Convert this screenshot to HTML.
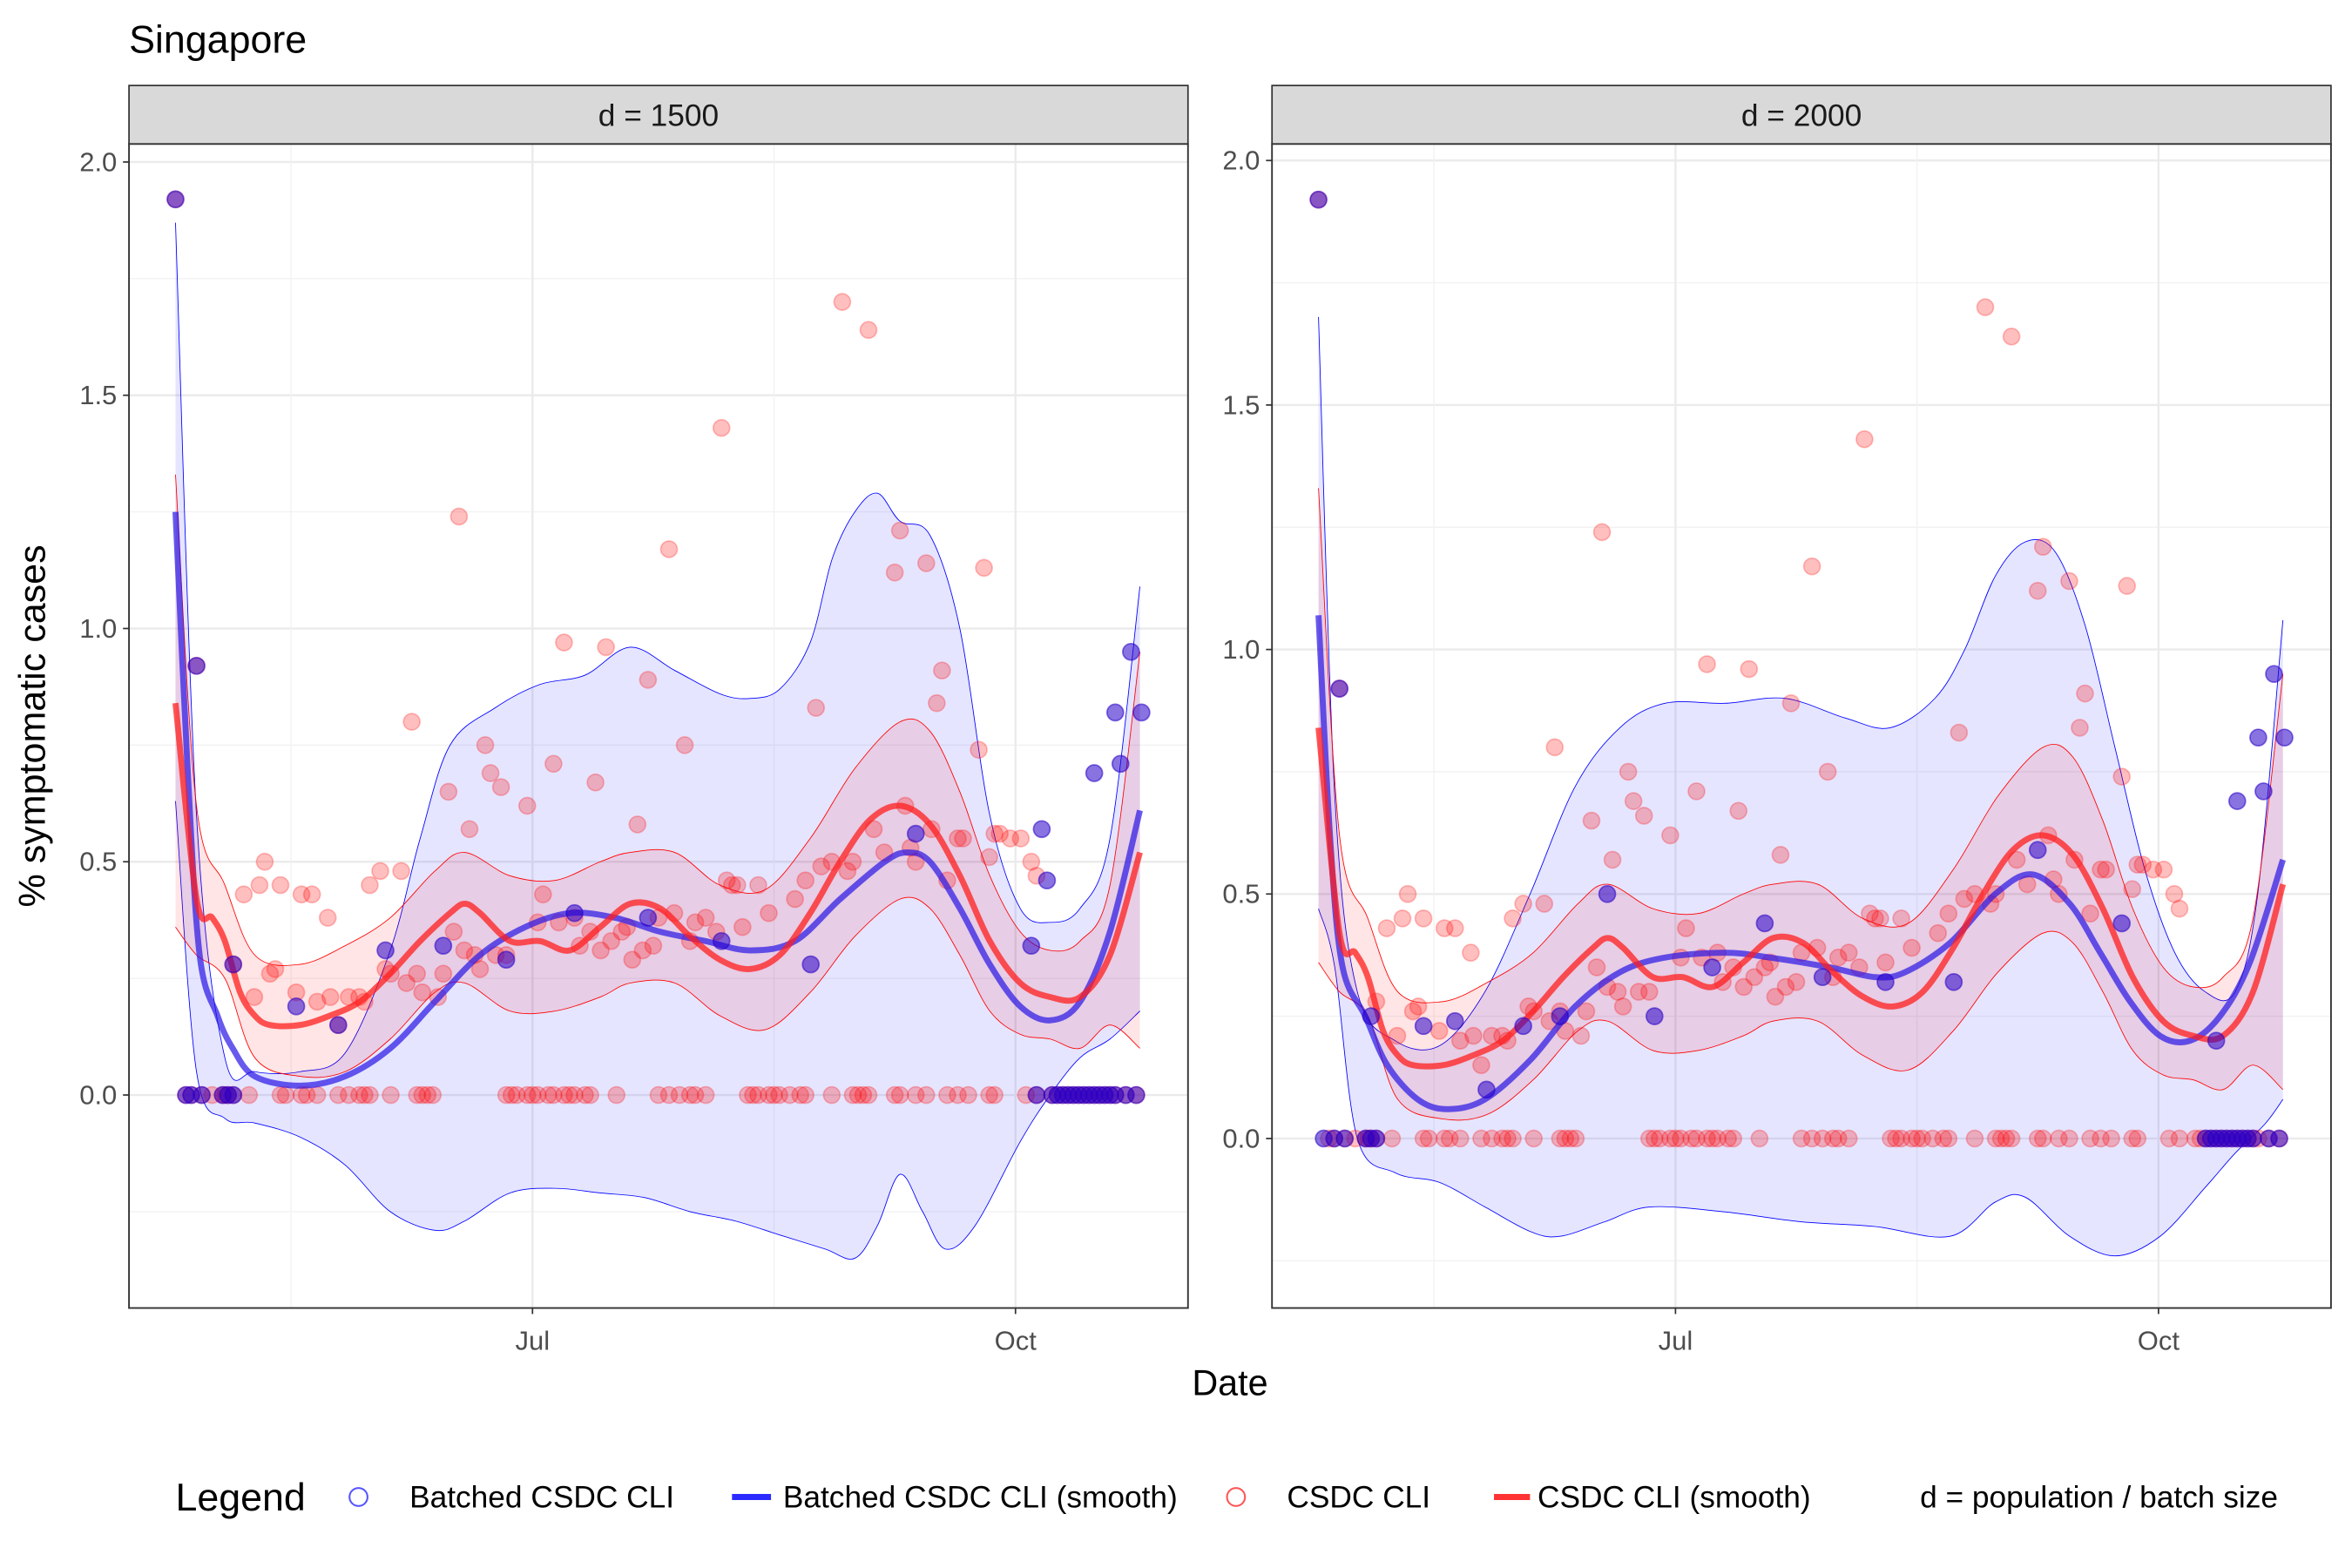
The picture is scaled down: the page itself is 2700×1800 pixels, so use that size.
<!DOCTYPE html>
<html><head><meta charset="utf-8"><style>
html,body{margin:0;padding:0;background:#fff;}
svg{display:block;font-family:"Liberation Sans",sans-serif;}
</style></head><body>
<svg id="chart" width="2700" height="1800" viewBox="0 0 1568 1045.33" preserveAspectRatio="none" xmlns="http://www.w3.org/2000/svg">
<rect x="0" y="0" width="1568" height="1046" fill="#fff"/>
<text x="86" y="35" font-size="26" fill="#000">Singapore</text>
<text transform="translate(30,484) rotate(-90)" text-anchor="middle" font-size="25" fill="#000">% symptomatic cases</text>
<text x="820" y="930" text-anchor="middle" font-size="24" fill="#000">Date</text>
<g id="panels"></g>
<g>
<text x="117" y="1007" font-size="26" fill="#000">Legend</text>
<circle cx="239" cy="998" r="6" fill="none" stroke="#5555ff" stroke-width="1.2"/>
<text x="273" y="1005" font-size="20.5">Batched CSDC CLI</text>
<line x1="488" y1="998" x2="514" y2="998" stroke="#2b2bff" stroke-width="4"/>
<text x="522" y="1005" font-size="20.5">Batched CSDC CLI (smooth)</text>
<circle cx="824" cy="998" r="6" fill="none" stroke="#ff5555" stroke-width="1.2"/>
<text x="858" y="1005" font-size="20.5">CSDC CLI</text>
<line x1="996" y1="998" x2="1020" y2="998" stroke="#ff3333" stroke-width="4"/>
<text x="1025" y="1005" font-size="20.5">CSDC CLI (smooth)</text>
<text x="1280" y="1005" font-size="20.5">d = population / batch size</text>
</g>
</svg>
<script>
// days relative to Jul 1
const redDays=[-68,-64,-57,-55,-53,-52,-51,-50,-49,-48,-45,-44,-42,-41,-39,-38.5,-37,-35,-33,-32,-31,-29,-28,-27,-25,-24,-23,-22,-21,-18,-17,-16,-15,-14,-13,-12,-11,-10,-9,-8,-7,-6,-5,-1,1,2,4,5,6,8,9,11,12,13,14,15,17,18,19,20,21,22,23,24,26,27,29,30,31,33,35,36,37,38,39,40,43,45,50,52,54,55,57,59,60,61,64,65,67,69,70,71,72,73,75,76,77,78,79,81,82,85,86,87,88,89,91,93,95,96];
const redVals=[1.92,0.92,0.28,0.43,0.21,0.45,0.50,0.26,0.27,0.45,0.22,0.43,0.43,0.20,0.38,0.21,0.15,0.21,0.21,0.20,0.45,0.48,0.27,0.26,0.48,0.24,0.80,0.26,0.22,0.21,0.26,0.65,0.35,1.24,0.31,0.57,0.30,0.27,0.75,0.69,0.30,0.66,0.30,0.62,0.37,0.43,0.71,0.37,0.97,0.38,0.32,0.35,0.67,0.31,0.96,0.33,0.35,0.36,0.29,0.58,0.31,0.89,0.32,0.38,1.17,0.39,0.75,0.33,0.37,0.38,0.35,1.43,0.46,0.45,0.45,0.36,0.45,0.39,0.42,0.46,0.83,0.49,0.50,1.70,0.48,0.50,1.64,0.57,0.52,1.12,1.21,0.62,0.53,0.50,1.14,0.57,0.84,0.91,0.46,0.55,0.55,0.74,1.13,0.51,0.56,0.56,0.55,0.55,0.50,0.47];
const redZeroDays=[-66,-65,-63,-61,-59,-58.5,-58,-57,-54,-48,-47,-44,-43,-41,-37,-35,-33,-32,-31,-27,-22,-21,-20,-19,-5,-4,-3,-1,0,1,3,4,6,7,8,10,11,16,24,26,28,30,31,33,41,42,43,45,46,47,49,51,52,57,61,62,63,64,69,70,73,75,79,81,83,87,88,94,96,99,100,101,102,103,104,105,106,107,108,109,110,111,113,115];

const b1Days=[-68,-64,-57,-45,-37,-28,-17,-5,8,22,36,53,73,95,97,98,107,111,112,114,116];
const b1Vals=[1.92,0.92,0.28,0.19,0.15,0.31,0.32,0.29,0.39,0.38,0.33,0.28,0.56,0.32,0.57,0.46,0.69,0.82,0.71,0.95,0.82];
const b1ZeroDays=[-66,-65,-63,-59,-58,-57,96,99,100,101,102,103,104,105,106,107,108,109,110,111,113,115];
const b2Days=[-68,-64,-58,-48,-42,-36,-29,-22,-13,-4,7,17,28,40,53,69,85,103,107,111,112,114,116];
const b2Vals=[1.92,0.92,0.25,0.23,0.24,0.10,0.23,0.25,0.50,0.25,0.35,0.44,0.33,0.32,0.32,0.59,0.44,0.20,0.69,0.82,0.71,0.95,0.82];
const b2ZeroDays=[-67,-65,-63,-59,-58,-57,101,102,103,104,105,106,107,108,109,110,113,115];

// smooths
const rsDays=[-68,-64,-61,-58.6,-55.7,-52.9,-50,-44.3,-38.6,-32.9,-27.1,-21.4,-15.7,-12.9,-10,-4.3,1.4,7.1,12.9,18.6,24.3,30,35.7,41.4,47.1,52.9,58.6,64.3,70,75.7,81.4,87.1,92.9,98.6,104.3,110,115.7];
const rsVals=[0.84,0.42,0.38,0.33,0.22,0.17,0.15,0.15,0.17,0.20,0.26,0.33,0.39,0.41,0.39,0.33,0.33,0.31,0.36,0.41,0.40,0.34,0.29,0.27,0.30,0.39,0.50,0.59,0.62,0.58,0.47,0.33,0.24,0.21,0.21,0.30,0.52];
const rbDays=[-68,-64,-58.6,-52.9,-44.3,-35.7,-27.1,-18.6,-12.9,-4.3,4.3,12.9,18.6,27.1,35.7,44.3,52.9,61.4,70,75.7,81.4,87.1,92.9,98.6,104.3,110,115.7];
const rbUpper=[1.33,0.62,0.45,0.30,0.28,0.32,0.38,0.48,0.52,0.47,0.46,0.50,0.52,0.52,0.45,0.44,0.55,0.70,0.80,0.78,0.65,0.47,0.35,0.31,0.33,0.45,0.95];
const rbLower=[0.36,0.30,0.25,0.08,0.04,0.05,0.12,0.22,0.24,0.18,0.18,0.21,0.24,0.24,0.17,0.14,0.22,0.34,0.42,0.40,0.30,0.18,0.13,0.12,0.10,0.15,0.10];

const bs1Days=[-68,-65.7,-63.4,-60,-57.1,-52.9,-44.3,-35.7,-27.1,-18.6,-10,-1.4,7.1,15.7,24.3,32.9,41.4,50,58.6,67.1,71.4,75.7,81.4,87.1,92.9,98.6,104.3,110,115.7];
const bs1Vals=[1.25,0.70,0.30,0.17,0.10,0.04,0.02,0.04,0.10,0.20,0.30,0.36,0.39,0.38,0.35,0.33,0.31,0.33,0.42,0.50,0.52,0.50,0.40,0.28,0.19,0.16,0.20,0.35,0.61];
const bu1Days=[-68,-64,-58.6,-52.9,-44.3,-35.7,-27.1,-21.4,-15.7,-7.1,1.4,10,18.6,27.1,35.7,41.4,47.1,52.9,57.1,61.4,65.7,70,75.7,81.4,87.1,92.9,98.6,104.3,110,115.7];
const bu1Vals=[1.87,0.60,0.08,0.05,0.05,0.09,0.31,0.55,0.75,0.83,0.88,0.90,0.96,0.91,0.86,0.85,0.87,0.97,1.15,1.25,1.29,1.23,1.20,1.00,0.60,0.40,0.37,0.40,0.55,1.09];
const bl1Days=[-68,-64,-58.6,-52.9,-44.3,-35.7,-27.1,-18.6,-12.9,-4.3,4.3,12.9,21.4,30,38.6,47.1,55.7,61.4,65.7,70,74.3,78.6,84.3,92.9,98.6,104.3,110,115.7];
const bl1Vals=[0.63,0.05,-0.05,-0.06,-0.09,-0.15,-0.25,-0.29,-0.27,-0.21,-0.20,-0.21,-0.22,-0.25,-0.27,-0.30,-0.33,-0.35,-0.28,-0.17,-0.25,-0.33,-0.28,-0.10,0.00,0.08,0.12,0.18];

const bs2Days=[-68,-65.7,-63.4,-59.1,-54.9,-49.1,-43.4,-36.3,-27.7,-19.1,-10.6,-2,9.4,18,29.4,38,43.7,52.3,60.9,68,75.1,80.9,86.6,92.3,98,103.7,109.4,115.7];
const bs2Vals=[1.07,0.60,0.35,0.25,0.15,0.08,0.06,0.08,0.16,0.27,0.34,0.37,0.38,0.37,0.35,0.33,0.34,0.40,0.50,0.54,0.48,0.38,0.28,0.21,0.20,0.25,0.36,0.57];
const bu2Days=[-68,-64.9,-60.6,-53.4,-44.9,-36.3,-27.7,-19.1,-10.6,-2,9.4,20.9,32.3,40.9,49.4,55.1,60.9,66.6,72.3,78,83.7,89.4,95.1,100.9,106.6,110.9,115.7];
const bu2Vals=[1.68,0.70,0.30,0.20,0.19,0.30,0.50,0.72,0.84,0.89,0.89,0.90,0.86,0.84,0.90,1.00,1.15,1.22,1.20,1.05,0.80,0.55,0.38,0.30,0.30,0.50,1.06];
const bl2Days=[-68,-64.9,-60.6,-53.4,-44.9,-36.3,-27.7,-22,-13.4,-4.9,9.4,23.7,38,52.3,60.9,66.6,75.1,83.7,92.3,100.9,106.6,112.3,115.7];
const bl2Vals=[0.47,0.35,0.00,-0.07,-0.09,-0.14,-0.19,-0.20,-0.17,-0.14,-0.15,-0.17,-0.18,-0.20,-0.13,-0.12,-0.20,-0.24,-0.20,-0.10,-0.03,0.03,0.08];

const yTicks=[0,0.5,1,1.5,2];
const yTickLabels=["0.0","0.5","1.0","1.5","2.0"];
const xTicks=[0,92];
const xTickLabels=["Jul","Oct"];

const NS="http://www.w3.org/2000/svg";
const root=document.getElementById('panels');
function mk(tag,attrs,parent){const e=document.createElementNS(NS,tag);for(const k in attrs)e.setAttribute(k,attrs[k]);parent.appendChild(e);return e;}
function cr(pts){let d="M"+pts[0][0].toFixed(2)+","+pts[0][1].toFixed(2);
 for(let i=0;i<pts.length-1;i++){const p0=pts[Math.max(0,i-1)],p1=pts[i],p2=pts[i+1],p3=pts[Math.min(pts.length-1,i+2)];
  const c1=[p1[0]+(p2[0]-p0[0])/6,p1[1]+(p2[1]-p0[1])/6],c2=[p2[0]-(p3[0]-p1[0])/6,p2[1]-(p3[1]-p1[1])/6];
  d+="C"+c1[0].toFixed(2)+","+c1[1].toFixed(2)+" "+c2[0].toFixed(2)+","+c2[1].toFixed(2)+" "+p2[0].toFixed(2)+","+p2[1].toFixed(2);}
 return d;}
function crRev(pts){return cr(pts).replace(/^M/,"L");}

function panel(cfg){
 const g=mk('g',{},root);
 
 
 const L=cfg.x0,R=cfg.x0+706,T=96,B=872;
 const sx=d=>cfg.jul+d*3.5;
 const sy=v=>cfg.y0-v*cfg.k;
 const strip=mk('rect',{x:L,y:57,width:706,height:39,fill:'#d9d9d9',stroke:'#333','stroke-width':1},g);
 
 
 const st=mk('text',{x:(L+R)/2,y:84,'text-anchor':'middle','font-size':20.5,fill:'#1a1a1a'},g);st.textContent=cfg.label;
 
 
 mk('rect',{x:L,y:T,width:706,height:B-T,fill:'#fff'},g);
 for(let i=0;i<yTicks.length;i++){const y=sy(yTicks[i]);mk('line',{x1:L,x2:R,y1:y,y2:y,stroke:'#ebebeb','stroke-width':1.4},g);
  const ym=sy(yTicks[i]-0.25);if(ym<B&&ym>T)mk('line',{x1:L,x2:R,y1:ym,y2:ym,stroke:'#f2f2f2','stroke-width':0.8},g);
  const t=mk('text',{x:L-8,y:y+6,'text-anchor':'end','font-size':18,fill:'#4d4d4d'},g);t.textContent=yTickLabels[i];
  
  
  mk('line',{x1:L-4,x2:L,y1:y,y2:y,stroke:'#333','stroke-width':1},g);}
 for(let i=0;i<xTicks.length;i++){const x=sx(xTicks[i]);mk('line',{x1:x,x2:x,y1:T,y2:B,stroke:'#ebebeb','stroke-width':1.4},g);
  const t=mk('text',{x:x,y:B+28,'text-anchor':'middle','font-size':18,fill:'#4d4d4d'},g);t.textContent=xTickLabels[i];
  
  
  mk('line',{x1:x,x2:x,y1:B,y2:B+4,stroke:'#333','stroke-width':1},g);}
 [-46,46].forEach(d=>{const x=sx(d);mk('line',{x1:x,x2:x,y1:T,y2:B,stroke:'#f2f2f2','stroke-width':0.8},g);});
 const cg=mk('g',{},g);
 const bu=cfg.buD.map((d,i)=>[sx(d),sy(cfg.buV[i])]),bl=cfg.blD.map((d,i)=>[sx(d),sy(cfg.blV[i])]).reverse();
 const bb=mk('path',{d:cr(bu)+crRev(bl)+"Z",fill:'rgba(0,0,255,0.1)',stroke:'none'},cg);
 
 
 mk('path',{d:cr(bu),fill:'none',stroke:'#0000ff','stroke-width':0.5},cg);
 mk('path',{d:cr(bl.slice().reverse()),fill:'none',stroke:'#0000ff','stroke-width':0.5},cg);
 const ru=rbDays.map((d,i)=>[sx(d),sy(rbUpper[i])]),rl=rbDays.map((d,i)=>[sx(d),sy(rbLower[i])]).reverse();
 const rb=mk('path',{d:cr(ru)+crRev(rl)+"Z",fill:'rgba(255,0,0,0.1)',stroke:'none'},cg);
 
 
 mk('path',{d:cr(ru),fill:'none',stroke:'#ff0000','stroke-width':0.5},cg);
 mk('path',{d:cr(rl.slice().reverse()),fill:'none',stroke:'#ff0000','stroke-width':0.5},cg);
 const rp=(d,v)=>{const c=mk('circle',{cx:sx(d),cy:sy(v),r:5.5,fill:'rgba(255,0,0,0.25)',stroke:'rgba(255,0,0,0.25)','stroke-width':1},cg);
  
  };
 redDays.forEach((d,i)=>rp(d,redVals[i]));
 redZeroDays.forEach(d=>rp(d,0));
 const bsl=mk('path',{d:cr(cfg.bsD.map((d,i)=>[sx(d),sy(cfg.bsV[i])])),fill:'none',stroke:'rgba(40,20,230,0.7)','stroke-width':4},cg);
 
 
 const rsl=mk('path',{d:cr(rsDays.map((d,i)=>[sx(d),sy(rsVals[i])])),fill:'none',stroke:'rgba(255,30,30,0.75)','stroke-width':4},cg);
 
 
 const bp=(d,v)=>{const c=mk('circle',{cx:sx(d),cy:sy(v),r:5.5,fill:'rgba(40,0,200,0.55)',stroke:'rgba(40,0,200,0.55)','stroke-width':1},cg);
  
  };
 cfg.bD.forEach((d,i)=>bp(d,cfg.bV[i]));
 cfg.bZ.forEach(d=>bp(d,0));
 mk('rect',{x:L,y:T,width:706,height:B-T,fill:'none',stroke:'#333','stroke-width':1.1},g);
}
panel({name:'panel-d1500',label:'d = 1500',x0:86,jul:355,y0:730,k:311,buD:bu1Days,buV:bu1Vals,blD:bl1Days,blV:bl1Vals,bsD:bs1Days,bsV:bs1Vals,bD:b1Days,bV:b1Vals,bZ:b1ZeroDays});
panel({name:'panel-d2000',label:'d = 2000',x0:848,jul:1117,y0:759,k:326,buD:bu2Days,buV:bu2Vals,blD:bl2Days,blV:bl2Vals,bsD:bs2Days,bsV:bs2Vals,bD:b2Days,bV:b2Vals,bZ:b2ZeroDays});
</script>
</body></html>
